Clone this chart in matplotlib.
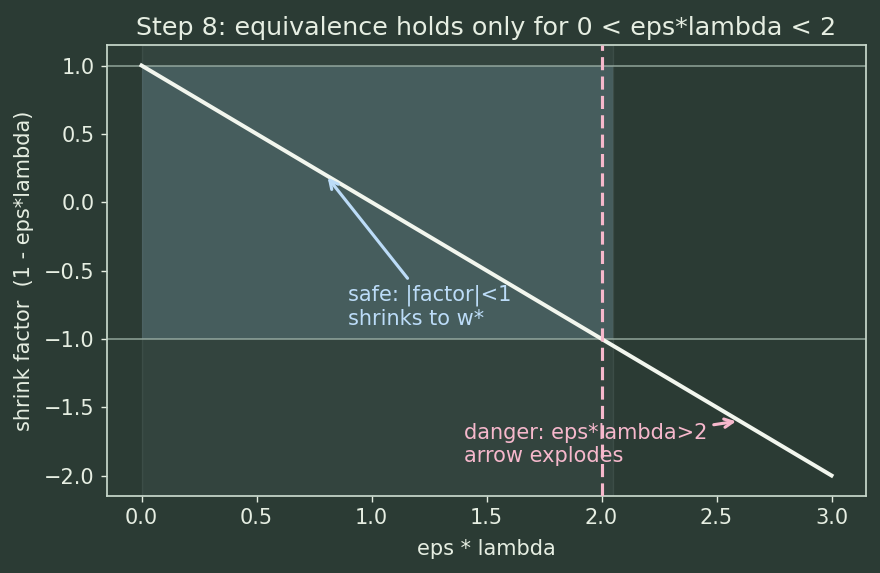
import numpy as np
import matplotlib
matplotlib.use("Agg")
import matplotlib.pyplot as plt

# data
eps_lambda = [0.0, 3.0]
shrink = [1.0, -2.0]
safe_lo, safe_hi = 0.0, 2.05
band_lo, band_hi = -1.0, 1.0
critical = 2.0
title = "Step 8: equivalence holds only for 0 < eps*lambda < 2"
xlabel = "eps * lambda"
ylabel = "shrink factor  (1 - eps*lambda)"
safe_text = "safe: |factor|<1\nshrinks to w*"
safe_xy = (0.8, 0.2)
safe_txt_pos = (0.9, -0.9)
danger_text = "danger: eps*lambda>2\narrow explodes"
danger_xy = (2.6, -1.6)
danger_txt_pos = (1.4, -1.9)

BG = "#2b3b34"
FG = "#e6eee2"
PINK = "#f6b8cc"
BLUE = "#bcdcf8"
FS = 12

DPI = 125
plt.rcParams['font.family'] = ['DejaVu Sans']
fig, ax = plt.subplots(figsize=(880 / DPI, 573 / DPI), dpi=DPI)
fig.patch.set_facecolor(BG)
ax.set_facecolor(BG)

ax.axvspan(safe_lo, safe_hi, facecolor="#6f8a8c", alpha=0.12, edgecolor="#9fb5b0", lw=0.8)
ax.fill_between([safe_lo, safe_hi], band_lo, band_hi, color="#6a8a96", alpha=0.36, lw=0)
ax.axhline(band_hi, color="#9aaea4", lw=1.0, alpha=0.8)
ax.axhline(band_lo, color="#9aaea4", lw=1.0, alpha=0.8)
ax.plot(eps_lambda, shrink, color="#f2f6ee", lw=2.3, zorder=3)
ax.axvline(critical, color=PINK, lw=1.8, ls=(0, (4.2, 2.0)), zorder=4)

ax.annotate(safe_text, xy=safe_xy, xytext=safe_txt_pos, color=BLUE, fontsize=FS,
            arrowprops=dict(arrowstyle="->", color=BLUE, lw=1.8))
ax.annotate(danger_text, xy=danger_xy, xytext=danger_txt_pos, color=PINK, fontsize=FS,
            arrowprops=dict(arrowstyle="->", color=PINK, lw=1.8))

ax.set_title(title, color=FG, fontsize=14.6)
ax.set_xlabel(xlabel, color=FG, fontsize=FS, labelpad=6)
ax.set_ylabel(ylabel, color=FG, fontsize=FS, labelpad=6)
ax.tick_params(colors=FG, labelsize=FS)
for s in ax.spines.values():
    s.set_color("#c8d8cc")
    s.set_linewidth(1.0)

fig.subplots_adjust(left=107/880, right=866/880, top=1-45/573, bottom=1-496/573)
fig.savefig("out.png", dpi=DPI, facecolor=BG)
